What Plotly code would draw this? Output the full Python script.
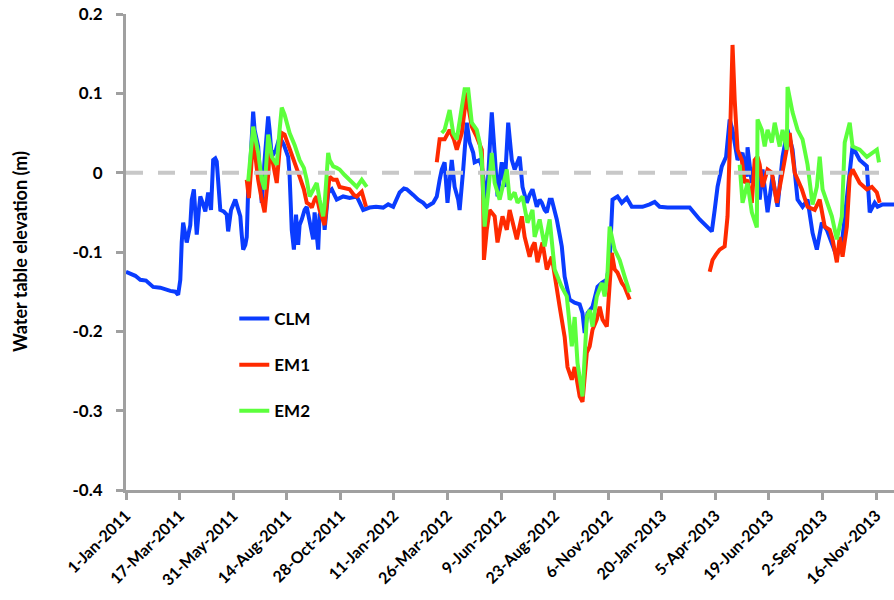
import pandas as pd
import plotly.graph_objects as go

START = pd.Timestamp("2011-01-01")

# CLM (days since 1-Jan-2011, water table elevation m)
clm_day = [0, 13, 20, 28, 38, 48, 62, 69, 73, 76, 78, 80, 83, 85, 90, 92, 95, 98, 99, 102, 104, 108, 111, 115, 119,
           122, 125, 127, 130, 132, 137, 141, 143, 147, 153, 157, 160, 162, 164, 167, 169, 171, 174, 178, 180, 185,
           187, 190, 194, 199, 201, 204, 210, 215, 221, 227, 229, 232, 235, 238, 241, 243, 246, 250, 253, 257, 262,
           264, 269, 271, 276, 278, 283, 288, 295, 304, 313, 323, 332, 341, 350, 360, 367, 374, 379, 383, 389, 393,
           402, 409, 416, 421, 430, 435, 439, 442, 446, 450, 456, 460, 465, 467, 472, 477, 481, 486, 488, 495, 498,
           502, 505, 509, 512, 516, 520, 526, 530, 535, 540, 544, 551, 555, 561, 565, 569, 575, 579, 582, 586, 589,
           593, 596, 600, 603, 607, 610, 614, 618, 621, 628, 635, 639, 642, 646, 653, 660, 666, 673, 677, 681, 688,
           694, 701, 708, 723, 733, 740, 747, 758, 775, 789, 803, 820, 824, 828, 834, 840, 845, 849, 856, 863, 869,
           870, 876, 883, 887, 891, 898, 905, 912, 919, 926, 933, 940, 947, 954, 961, 967, 974, 981, 988, 995, 1003,
           1010, 1017, 1027, 1037, 1041, 1048, 1052, 1059, 1075]
clm_val = [-0.125, -0.130, -0.135, -0.136, -0.144, -0.145, -0.149, -0.150, -0.154, -0.135, -0.088, -0.063, -0.078,
           -0.088, -0.066, -0.034, -0.021, -0.053, -0.078, -0.047, -0.030, -0.040, -0.049, -0.025, -0.047, 0.016,
           0.018, 0.014, -0.015, -0.047, -0.049, -0.053, -0.074, -0.047, -0.034, -0.047, -0.055, -0.078, -0.097,
           -0.091, -0.081, -0.021, 0.010, 0.077, 0.054, 0.033, -0.003, -0.038, 0.016, 0.071, 0.054, 0.020, 0.029,
           0.045, 0.035, 0.020, -0.003, -0.072, -0.097, -0.053, -0.091, -0.066, -0.059, -0.047, -0.043, -0.059,
           -0.084, -0.050, -0.097, -0.053, -0.043, -0.072, -0.025, -0.021, -0.034, -0.030, -0.032, -0.030, -0.047,
           -0.044, -0.043, -0.044, -0.040, -0.043, -0.032, -0.025, -0.020, -0.021, -0.028, -0.034, -0.038, -0.043,
           -0.038, -0.030, -0.009, 0.004, 0.013, -0.038, 0.016, -0.018, -0.034, -0.047, 0.004, 0.063, 0.038, 0.025,
           0.013, 0.016, 0.008, -0.021, -0.038, 0.029, 0.076, 0.025, -0.030, 0.013, -0.018, 0.063, 0.016, 0.004,
           0.020, -0.018, -0.038, -0.028, -0.021, -0.043, -0.034, -0.038, -0.047, -0.050, -0.034, -0.034, -0.047,
           -0.059, -0.078, -0.093, -0.131, -0.148, -0.160, -0.164, -0.166, -0.177, -0.202, -0.177, -0.169, -0.144,
           -0.139, -0.135, -0.110, -0.034, -0.030, -0.038, -0.032, -0.043, -0.043, -0.040, -0.037, -0.043, -0.044,
           -0.044, -0.044, -0.059, -0.074, -0.047, -0.018, 0.008, 0.020, 0.067, 0.054, 0.016, 0.025, -0.005, 0.032,
           -0.013, 0.020, -0.034, 0.004, -0.050, -0.005, -0.043, 0.020, 0.054, 0.029, -0.034, -0.043, -0.034,
           -0.076, -0.097, -0.063, -0.072, -0.088, -0.106, -0.081, -0.021, 0.033, 0.016, 0.008, -0.050, -0.038,
           -0.043, -0.040, -0.040]

# EM1
em1_day = [169, 172, 175, 178, 180, 185, 190, 194, 199, 201, 204, 208, 211, 215, 218, 222, 229, 236, 243, 249, 253,
           257, 260, 264, 267, 271, 276, 278, 283, 285, 290, 295, 299, 306, 313, 319, 323, 330, 333, 336,
           None,
           435, 439, 446, 453, 459, 463, 470, 474, 477, 480, 484, 491, 498, 500, 501, 505, 509, 516, 520, 527, 533,
           537, 541, 547, 554, 558, 565, 569, 572, 576, 583, 589, 596, 600, 607, 614, 618, 624, 628, 635, 639, 645,
           649, 653, 659, 663, 667, 673, 677, 680, 684, 688, 694, 698, 705,
           None,
           817, 821, 826, 831, 838, 842, 845, 848, 849, 852, 856, 862, 866, 870, 876, 880, 884, 887, 891, 898, 904,
           911, 918, 925, 929, 936, 946, 954, 964, 971, 978, 985, 989, 995, 999, 1003, 1009, 1013, 1017, 1027, 1037,
           1044, 1051, 1055]
em1_val = [-0.009, -0.032, 0.004, 0.048, 0.029, -0.009, -0.034, -0.050, -0.003, 0.026, 0.020, 0.004, -0.013, 0.029,
           0.050, 0.048, 0.029, 0.010, -0.005, -0.021, -0.038, -0.040, -0.044, -0.034, -0.030, -0.047, -0.059,
           -0.066, -0.021, -0.005, -0.009, -0.009, -0.018, -0.019, -0.021, -0.028, -0.030, -0.024, -0.034, -0.043,
           None,
           0.013, 0.042, 0.042, 0.054, 0.042, 0.029, 0.050, 0.086, 0.101, 0.079, 0.058, 0.045, 0.029, -0.034, -0.110,
           -0.072, -0.047, -0.055, -0.088, -0.055, -0.072, -0.047, -0.063, -0.084, -0.055, -0.081, -0.106, -0.093,
           -0.088, -0.113, -0.088, -0.122, -0.106, -0.131, -0.169, -0.207, -0.245, -0.261, -0.245, -0.282, -0.289,
           -0.227, -0.219, -0.198, -0.185, -0.169, -0.185, -0.194, -0.144, -0.101, -0.122, -0.126, -0.139, -0.144,
           -0.160,
           None,
           -0.125, -0.110, -0.103, -0.097, -0.093, -0.055, 0.029, 0.155, 0.161, 0.092, 0.029, 0.016, -0.013, -0.009,
           -0.038, 0.016, 0.020, 0.010, -0.018, 0.004, 0.000, -0.038, -0.005, 0.033, 0.050, 0.000, -0.021, -0.043,
           -0.047, -0.034, -0.068, -0.072, -0.084, -0.113, -0.081, -0.106, -0.068, -0.005, 0.004, -0.013, -0.021,
           -0.018, -0.025, -0.038]

# EM2
em2_day = [171, 178, 185, 190, 194, 199, 204, 211, 215, 218, 222, 229, 236, 243, 249, 253, 257, 262, 267, 271, 276,
           278, 283, 285, 290, 295, 299, 306, 313, 319, 323, 330, 334, 337,
           None,
           442, 446, 453, 458, 463, 470, 474, 479, 484, 491, 495, 498, 500, 502, 507, 512, 516, 523, 533, 537, 544,
           548, 555, 562, 569, 572, 579, 586, 593, 600, 610, 617, 624, 628, 632, 639, 645, 649, 653, 659, 666, 670,
           674, 677, 684, 691, 698, 705,
           None,
           859, 863, 870, 876, 883, 884, 890, 894, 898, 904, 908, 915, 919, 925, 926, 933, 940, 947, 954, 961, 967,
           971, 975, 981, 988, 995, 1002, 1006, 1013, 1017, 1027, 1037, 1044, 1051, 1054]
em2_val = [-0.011, 0.058, 0.025, -0.009, -0.021, 0.048, 0.020, 0.010, 0.054, 0.082, 0.073, 0.050, 0.035, 0.016,
           0.006, -0.009, -0.030, -0.021, -0.013, -0.034, -0.055, -0.040, 0.025, 0.016, 0.008, 0.006, 0.004, -0.003,
           -0.009, -0.015, -0.018, -0.009, -0.015, -0.018,
           None,
           0.050, 0.054, 0.079, 0.050, 0.042, 0.088, 0.105, 0.105, 0.063, 0.054, 0.038, 0.016, -0.018, -0.068,
           -0.025, 0.025, -0.013, -0.034, 0.004, -0.034, -0.025, -0.038, -0.030, -0.063, -0.047, -0.081, -0.059,
           -0.093, -0.059, -0.122, -0.144, -0.156, -0.219, -0.182, -0.240, -0.282, -0.182, -0.173, -0.194, -0.156,
           -0.139, -0.156, -0.126, -0.068, -0.097, -0.110, -0.131, -0.151,
           None,
           0.010, -0.038, -0.013, -0.050, -0.069, 0.067, 0.054, 0.033, 0.054, 0.038, 0.063, 0.033, 0.054, 0.029,
           0.108, 0.076, 0.054, 0.042, 0.010, -0.040, -0.018, 0.020, -0.021, -0.038, -0.055, -0.084, -0.055, 0.038,
           0.063, 0.033, 0.029, 0.020, 0.025, 0.029, 0.013]

tick_labels = ["1-Jan-2011", "17-Mar-2011", "31-May-2011", "14-Aug-2011", "28-Oct-2011", "11-Jan-2012",
               "26-Mar-2012", "9-Jun-2012", "23-Aug-2012", "6-Nov-2012", "20-Jan-2013", "5-Apr-2013",
               "19-Jun-2013", "2-Sep-2013", "16-Nov-2013"]
y_ticks = [0.2, 0.1, 0, -0.1, -0.2, -0.3, -0.4]
y_tick_text = ["0.2", "0.1", "0", "-0.1", "-0.2", "-0.3", "-0.4"]


def to_dates(days):
    return [None if d is None else START + pd.Timedelta(days=d) for d in days]


FONT = "Lato, 'Open Sans', Arial, sans-serif"
series = [("CLM", clm_day, clm_val, "#0A3CFF"),
          ("EM1", em1_day, em1_val, "#FF2A00"),
          ("EM2", em2_day, em2_val, "#5CFF3C")]

fig = go.Figure()
for name, d, v, c in series:
    fig.add_trace(go.Scatter(x=to_dates(d), y=v, mode="lines", name=name, legendgroup=name,
                             line=dict(color=c, width=4), connectgaps=False))

tick_dates = [pd.to_datetime(t, format="%d-%b-%Y") for t in tick_labels]

fig.update_layout(
    width=894, height=600,
    margin=dict(l=126, r=0, t=14, b=110, autoexpand=False),
    plot_bgcolor="white", paper_bgcolor="white",
    font=dict(family=FONT, color="black"),
    showlegend=True,
    legend=dict(x=0.141, y=0.397, xanchor="left", yanchor="top",
                font=dict(family=FONT, size=17, color="black", weight="bold"),
                tracegroupgap=21, itemwidth=30, bgcolor="rgba(0,0,0,0)"),
    xaxis=dict(type="date", range=[START, START + pd.Timedelta(days=1075)],
               tickvals=tick_dates, ticktext=tick_labels, tickangle=-45,
               tickfont=dict(family=FONT, size=16, color="black", weight="bold"),
               showline=True, linecolor="#A0A0A0", linewidth=3,
               ticks="outside", ticklen=7, tickwidth=3, tickcolor="#A0A0A0",
               ticklabeloverflow="allow",
               showgrid=False, zeroline=False, automargin=False),
    yaxis=dict(range=[-0.4, 0.2], tickvals=y_ticks, ticktext=y_tick_text,
               tickfont=dict(family=FONT, size=17, color="black", weight="bold"),
               showline=True, linecolor="#A0A0A0", linewidth=3,
               ticks="outside", ticklen=7, tickwidth=3, tickcolor="#A0A0A0",
               ticklabelstandoff=10, ticklabeloverflow="allow",
               showgrid=False, zeroline=False, automargin=False),
)

fig.add_shape(type="line", xref="paper", yref="y", x0=0, x1=1, y0=0, y1=0,
              line=dict(color="#C8C8C8", width=4, dash="17px,15px"), layer="above")

fig.add_annotation(text="Water table elevation (m)", xref="paper", yref="paper",
                   x=-0.138, y=0.5, xanchor="center", yanchor="middle", textangle=-90,
                   showarrow=False, font=dict(family=FONT, size=18, color="black", weight="bold"))

# remove the browser's default 8px page margin so the figure sits at the window's top-left corner
fig.write_html("out.html", config={"displayModeBar": False},
               post_script="document.body.style.margin='0px';")
